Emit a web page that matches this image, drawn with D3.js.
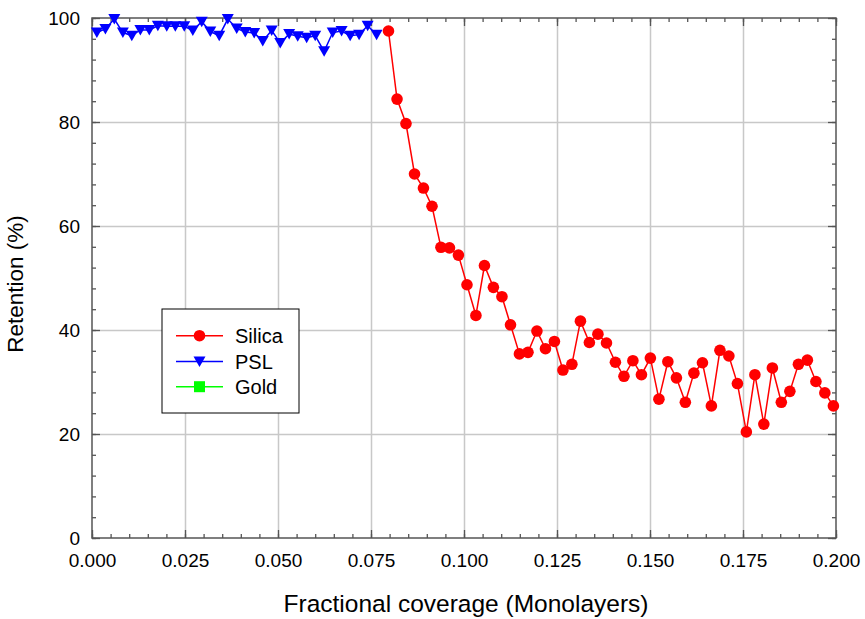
<!DOCTYPE html>
<html>
<head>
<meta charset="utf-8">
<script src="https://cdn.jsdelivr.net/npm/d3@7"></script>
<style>
  body { margin: 0; background: #fff; }
  text { font-family: "Liberation Sans", Arial, sans-serif; fill: #000; }
</style>
</head>
<body>
<div class="chart"></div>
<script>
// values
var silicaX = [0.0797, 0.0820, 0.0844, 0.0867, 0.0891, 0.0914, 0.0938, 0.0961, 0.0985, 0.1008,
  0.1032, 0.1055, 0.1079, 0.1102, 0.1125, 0.1149, 0.1172, 0.1196, 0.1219, 0.1243,
  0.1266, 0.1290, 0.1313, 0.1337, 0.1360, 0.1383, 0.1407, 0.1430, 0.1454, 0.1477,
  0.1501, 0.1524, 0.1548, 0.1571, 0.1595, 0.1618, 0.1641, 0.1665, 0.1688, 0.1712,
  0.1735, 0.1759, 0.1782, 0.1806, 0.1829, 0.1853, 0.1876, 0.1899, 0.1923, 0.1946,
  0.1970, 0.1993];
var silicaY = [97.5, 84.4, 79.7, 70.0, 67.3, 63.8, 55.9, 55.8, 54.4, 48.7,
  42.8, 52.4, 48.2, 46.4, 41.0, 35.4, 35.7, 39.8, 36.4, 37.8,
  32.3, 33.4, 41.7, 37.6, 39.2, 37.5, 33.8, 31.1, 34.1, 31.4,
  34.6, 26.7, 33.9, 30.8, 26.1, 31.7, 33.7, 25.4, 36.1, 35.0,
  29.7, 20.4, 31.4, 21.9, 32.7, 26.1, 28.2, 33.4, 34.2, 30.1,
  27.9, 25.4];

var pslX = [0.0013, 0.0036, 0.0060, 0.0083, 0.0107, 0.0130, 0.0154, 0.0177, 0.0201, 0.0224,
  0.0248, 0.0271, 0.0295, 0.0318, 0.0342, 0.0365, 0.0389, 0.0412, 0.0436, 0.0459,
  0.0483, 0.0506, 0.0530, 0.0553, 0.0577, 0.0600, 0.0624, 0.0647, 0.0671, 0.0694,
  0.0718, 0.0741, 0.0765];
var pslY = [97.2, 97.9, 99.8, 97.2, 96.6, 97.7, 97.7, 98.5, 98.4, 98.4,
  98.4, 97.6, 99.3, 97.4, 96.6, 99.8, 98.0, 97.3, 97.1, 95.6,
  97.6, 95.2, 96.9, 96.5, 96.2, 96.6, 93.6, 97.2, 97.5, 96.6,
  96.8, 98.5, 96.8];

// gold is only in the legend
var goldX = [];
var goldY = [];

var seriesNames = ["Silica", "PSL", "Gold"];
var seriesColors = ["#ff0000", "#0000ff", "#00ff00"];

var xMajor = [0, 0.025, 0.05, 0.075, 0.1, 0.125, 0.15, 0.175, 0.2];
var yMajor = [0, 20, 40, 60, 80, 100];

var margin = { top: 18, right: 29, bottom: 81, left: 92 };
var width = 865 - margin.left - margin.right;
var height = 619 - margin.top - margin.bottom;

var svgRoot = d3.select(".chart")
  .append("svg")
  .attr("width", 865)
  .attr("height", 619);

var svg = svgRoot.append("g")
  .attr("transform", "translate(" + margin.left + "," + margin.top + ")");

var xScale = d3.scaleLinear().domain([0, 0.2]).range([0, width]);
var yScale = d3.scaleLinear().domain([0, 100]).range([height, 0]);

var xMinor = d3.range(0, 0.2001, 0.005);
var yMinor = d3.range(0, 100.01, 4);

// grid
svg.append("g")
  .attr("class", "grid")
  .call(d3.axisBottom(xScale).tickValues(xMajor.slice(1, -1)).tickSize(height).tickFormat(""));
svg.append("g")
  .attr("class", "grid")
  .call(d3.axisLeft(yScale).tickValues(yMajor.slice(1, -1)).tickSize(-width).tickFormat(""));
svg.selectAll(".grid .domain").remove();
svg.selectAll(".grid line").attr("stroke", "#c8c8c8").attr("stroke-width", 1.5);

function axisStyle(g) {
  g.select(".domain").remove();
  g.selectAll("line").attr("stroke", "#555").attr("stroke-width", 1.3);
}

// bottom
svg.append("g")
  .attr("transform", "translate(0," + height + ")")
  .call(d3.axisBottom(xScale).tickValues(xMinor).tickSize(-4).tickFormat(""))
  .call(axisStyle);
var xAxis = svg.append("g")
  .attr("transform", "translate(0," + height + ")")
  .call(d3.axisBottom(xScale).tickValues(xMajor).tickSize(-8).tickPadding(16).tickFormat(d3.format(".3f")))
  .call(axisStyle);
xAxis.selectAll("text").style("font-size", "19px");

// top
svg.append("g")
  .call(d3.axisTop(xScale).tickValues(xMinor).tickSize(-4).tickFormat(""))
  .call(axisStyle);
svg.append("g")
  .call(d3.axisTop(xScale).tickValues(xMajor).tickSize(-8).tickFormat(""))
  .call(axisStyle);

// left
svg.append("g")
  .call(d3.axisLeft(yScale).tickValues(yMinor).tickSize(-4).tickFormat(""))
  .call(axisStyle);
var yAxis = svg.append("g")
  .call(d3.axisLeft(yScale).tickValues(yMajor).tickSize(-8).tickPadding(12))
  .call(axisStyle);
yAxis.selectAll("text").style("font-size", "19px");

// right
svg.append("g")
  .attr("transform", "translate(" + width + ",0)")
  .call(d3.axisRight(yScale).tickValues(yMinor).tickSize(-4).tickFormat(""))
  .call(axisStyle);
svg.append("g")
  .attr("transform", "translate(" + width + ",0)")
  .call(d3.axisRight(yScale).tickValues(yMajor).tickSize(-8).tickFormat(""))
  .call(axisStyle);

// frame
svg.append("rect")
  .attr("width", width)
  .attr("height", height)
  .attr("fill", "none")
  .attr("stroke", "#555")
  .attr("stroke-width", 1.5);

var line = d3.line()
  .x(d => xScale(d[0]))
  .y(d => yScale(d[1]));

var triangle = "M-6,-5L6,-5L0,5.5Z";

// PSL
var psl = d3.zip(pslX, pslY);
svg.append("path")
  .datum(psl)
  .attr("d", line)
  .attr("fill", "none")
  .attr("stroke", seriesColors[1])
  .attr("stroke-width", 1.5);
svg.selectAll(".psl")
  .data(psl)
  .enter()
  .append("path")
  .attr("class", "psl")
  .attr("d", triangle)
  .attr("transform", d => "translate(" + xScale(d[0]) + "," + yScale(d[1]) + ")")
  .attr("fill", seriesColors[1]);

// Gold (no points)
var gold = d3.zip(goldX, goldY);
svg.selectAll(".gold")
  .data(gold)
  .enter()
  .append("rect")
  .attr("class", "gold")
  .attr("x", d => xScale(d[0]) - 5.5)
  .attr("y", d => yScale(d[1]) - 5.5)
  .attr("width", 11)
  .attr("height", 11)
  .attr("fill", seriesColors[2]);

// Silica
var silica = d3.zip(silicaX, silicaY);
svg.append("path")
  .datum(silica)
  .attr("d", line)
  .attr("fill", "none")
  .attr("stroke", seriesColors[0])
  .attr("stroke-width", 1.5);
svg.selectAll(".silica")
  .data(silica)
  .enter()
  .append("circle")
  .attr("class", "silica")
  .attr("cx", d => xScale(d[0]))
  .attr("cy", d => yScale(d[1]))
  .attr("r", 5.8)
  .attr("fill", seriesColors[0]);

// legend
var legend = svgRoot.append("g").attr("transform", "translate(162,309)");
legend.append("rect")
  .attr("width", 137)
  .attr("height", 104)
  .attr("fill", "#fff")
  .attr("stroke", "#000")
  .attr("stroke-width", 1);

var rows = legend.selectAll(".row")
  .data(seriesNames)
  .enter()
  .append("g")
  .attr("class", "row")
  .attr("transform", (d, i) => "translate(0," + [26.7, 52.5, 77.7][i] + ")");

rows.append("line")
  .attr("x1", 14).attr("x2", 61)
  .attr("stroke", (d, i) => seriesColors[i])
  .attr("stroke-width", 1.5);

rows.each(function (d, i) {
  var g = d3.select(this);
  if (i === 0) {
    g.append("circle").attr("cx", 37.5).attr("r", 5.8).attr("fill", seriesColors[0]);
  } else if (i === 1) {
    g.append("path").attr("d", triangle).attr("transform", "translate(37.5,0)").attr("fill", seriesColors[1]);
  } else {
    g.append("rect").attr("x", 32).attr("y", -5.5).attr("width", 11).attr("height", 11).attr("fill", seriesColors[2]);
  }
});

rows.append("text")
  .attr("x", 73)
  .attr("dy", "0.36em")
  .style("font-size", "20px")
  .text(d => d);

// axis titles
svgRoot.append("text")
  .attr("x", margin.left + width / 2 + 2)
  .attr("y", 612)
  .attr("text-anchor", "middle")
  .style("font-size", "24.5px")
  .text("Fractional coverage (Monolayers)");

svgRoot.append("text")
  .attr("transform", "translate(23,284) rotate(-90)")
  .attr("text-anchor", "middle")
  .style("font-size", "22.5px")
  .text("Retention (%)");
</script>
</body>
</html>
